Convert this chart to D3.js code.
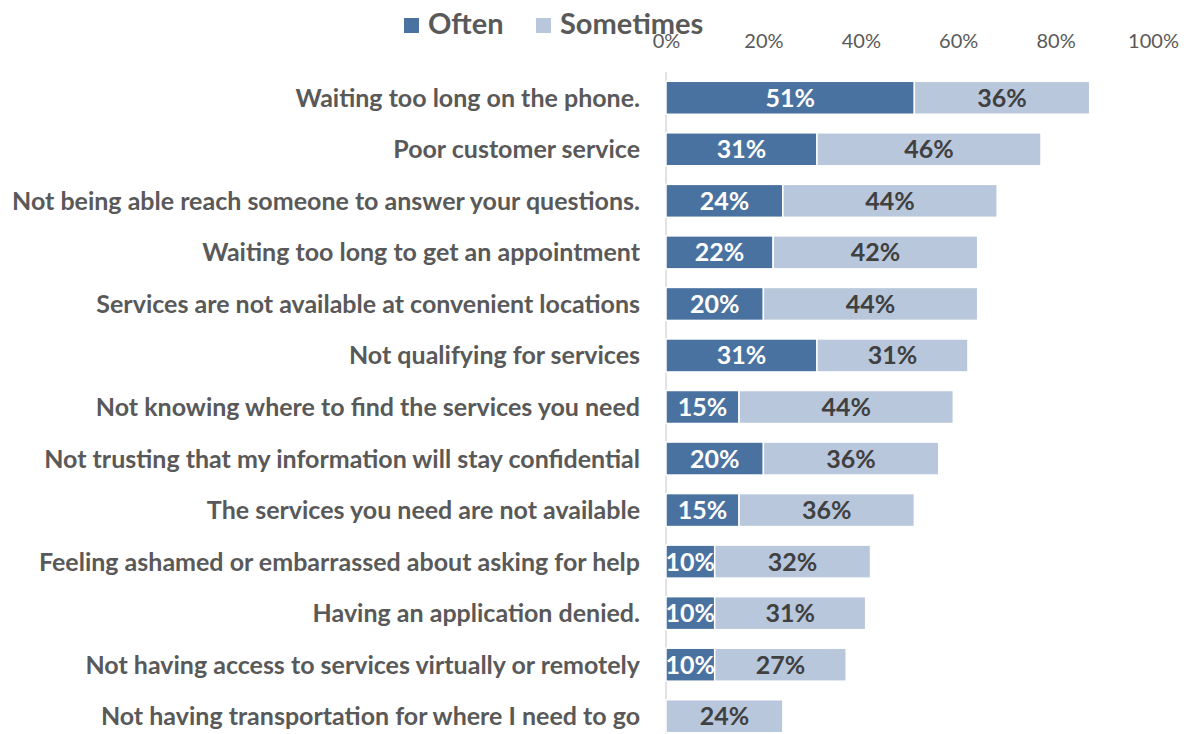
<!DOCTYPE html>
<html>
<head>
<meta charset="utf-8">
<script src="https://cdn.jsdelivr.net/npm/d3@7"></script>
<style>
  body { margin: 0; background: #fff; }
  svg { display: block; }
  text { font-family: Lato, "Open Sans", sans-serif; }
</style>
</head>
<body>
<svg id="chart" width="1184" height="734"></svg>
<script>
const categories = [
  "Waiting too long on the phone.",
  "Poor customer service",
  "Not being able reach someone to answer your questions.",
  "Waiting too long to get an appointment",
  "Services are not available at convenient locations",
  "Not qualifying for services",
  "Not knowing where to find the services you need",
  "Not trusting that my information will stay confidential",
  "The services you need are not available",
  "Feeling ashamed or embarrassed about asking for help",
  "Having an application denied.",
  "Not having access to services virtually or remotely",
  "Not having transportation for where I need to go"
];
const often     = [51, 31, 24, 22, 20, 31, 15, 20, 15, 10, 10, 10, 0];
const sometimes = [36, 46, 44, 42, 44, 31, 44, 36, 36, 32, 31, 27, 24];
const seriesNames = ["Often", "Sometimes"];
const tickValues = [0, 20, 40, 60, 80, 100];

const colors = { Often: "#4A72A0", Sometimes: "#B8C7DB" };
const svg = d3.select("#chart");

const x = d3.scaleLinear().domain([0, 100]).range([666, 1153]);
const y = d3.scaleBand().domain(categories).range([72, 742]).paddingInner(0.36).paddingOuter(0.18);

const rows = categories.map((c, i) => ({ cat: c, Often: often[i], Sometimes: sometimes[i] }));
const stacked = d3.stack().keys(seriesNames)(rows);

// top axis labels
const axis = d3.axisTop(x).tickValues(tickValues).tickFormat(d => d + "%").tickSize(0);
const ag = svg.append("g").attr("transform", "translate(0,51)").call(axis);
ag.select(".domain").remove();
ag.selectAll("text").attr("fill", "#595959").attr("font-size", 20)
  .style("font-family", "Lato, 'Open Sans', sans-serif");

// vertical baseline
svg.append("line").attr("x1", x(0)).attr("x2", x(0)).attr("y1", 72).attr("y2", 734)
  .attr("stroke", "#d9d9d9").attr("stroke-width", 1.5);

// stacked bars
const layer = svg.selectAll("g.layer").data(stacked).join("g").attr("class", "layer")
  .attr("fill", d => colors[d.key]);
layer.selectAll("rect").data(d => d.filter(p => p[1] > p[0])).join("rect")
  .attr("x", p => x(p[0]))
  .attr("y", p => y(p.data.cat))
  .attr("width", p => x(p[1]) - x(p[0]))
  .attr("height", y.bandwidth())
  .attr("stroke", "#fff").attr("stroke-width", 1.5);

// value labels
stacked.forEach(s => {
  svg.append("g").selectAll("text").data(s.filter(p => p[1] > p[0])).join("text")
    .attr("x", p => (x(p[0]) + x(p[1])) / 2)
    .attr("y", p => y(p.data.cat) + y.bandwidth() / 2)
    .attr("dy", "0.36em")
    .attr("text-anchor", "middle")
    .attr("font-weight", 700)
    .attr("font-size", 25)
    .attr("fill", s.key === "Often" ? "#ffffff" : "#404040")
    .text(p => (p[1] - p[0]) + "%");
});

// category labels
svg.append("g").selectAll("text").data(categories).join("text")
  .attr("x", 640)
  .attr("y", d => y(d) + y.bandwidth() / 2)
  .attr("dy", "0.36em")
  .attr("text-anchor", "end")
  .attr("font-weight", 700)
  .attr("font-size", 25)
  .attr("fill", "#595959")
  .text(d => d);

// legend
const legend = svg.append("g");
const legendPos = [{ key: "Often", x: 404 }, { key: "Sometimes", x: 536 }];
legendPos.forEach(l => {
  legend.append("rect").attr("x", l.x).attr("y", 18).attr("width", 15).attr("height", 15)
    .attr("fill", colors[l.key]);
  legend.append("text").attr("x", l.x + 24).attr("y", 24).attr("dy", "0.36em")
    .attr("font-weight", 700).attr("font-size", 29).attr("fill", "#595959").text(l.key);
});
</script>
</body>
</html>
